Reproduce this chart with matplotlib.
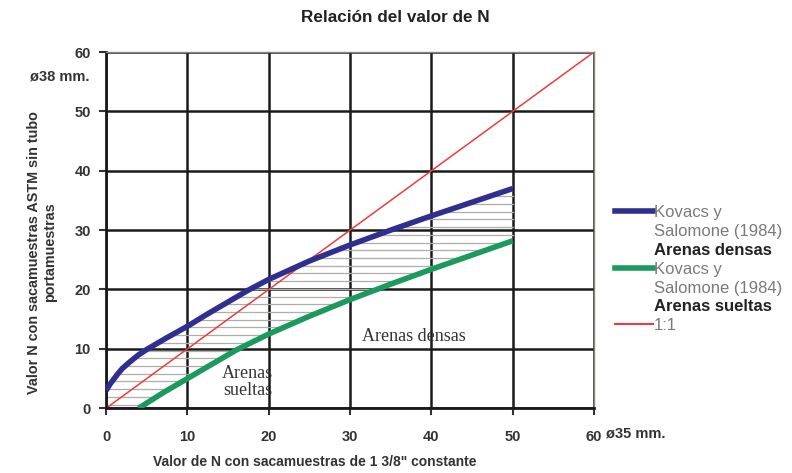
import numpy as np
import matplotlib.pyplot as plt
from matplotlib.lines import Line2D

plt.rcParams['font.family'] = ['Liberation Sans', 'DejaVu Sans']

# Kovacs y Salomone (1984) curves
x_densas = [0, 0.5, 1, 1.5, 2, 3, 4, 5, 6, 7.5, 10, 12.5, 15, 17.5, 20, 25, 30, 35, 40, 45, 50]
y_densas = [3, 4.1, 5.0, 5.9, 6.7, 7.9, 9.0, 9.9, 10.7, 11.9, 13.8, 15.9, 17.9, 19.9, 21.7,
            24.8, 27.5, 30.0, 32.4, 34.7, 37]
x_sueltas = [4, 7, 10, 13, 16, 20, 25, 30, 35, 40, 45, 50]
y_sueltas = [0, 2.6, 5, 7.4, 9.8, 12.5, 15.5, 18.3, 20.9, 23.4, 25.8, 28.2]
x_ref = [0, 60]
y_ref = [0, 60]

fig = plt.figure(figsize=(7.92, 4.73), dpi=100)
ax = fig.add_axes([0.134, 0.137, 0.616, 0.753])

# horizontal hatching between the two curves
for yh in np.arange(0.6, 37, 1.3):
    xl = np.interp(yh, y_densas, x_densas, left=0)
    xr = min(np.interp(yh, y_sueltas, x_sueltas), 50)
    if xr > xl:
        ax.plot([xl, xr], [yh, yh], color='#b0aca8', lw=0.9, zorder=1)

ax.plot(x_densas, y_densas, color='#2e2f8f', lw=4, solid_capstyle='butt', zorder=3)
ax.plot(x_sueltas, y_sueltas, color='#1a9a5c', lw=4, solid_capstyle='butt', zorder=3)
ax.plot(x_ref, y_ref, color='#ee3b3b', lw=1.1, zorder=2)

ax.set_xlim(0, 60)
ax.set_ylim(0, 60)
ax.set_xticks(range(0, 61, 10))
ax.set_yticks(range(0, 61, 10))
ax.grid(True, color='#1a1a1a', lw=1.8)
ax.set_axisbelow(True)
for s in ['left', 'bottom']:
    ax.spines[s].set_linewidth(2)
    ax.spines[s].set_color('#1a1a1a')
for s in ['top', 'right']:
    ax.spines[s].set_linewidth(1)
    ax.spines[s].set_color('#8a8580')
ax.tick_params(length=5, width=1.5, color='#333333', labelsize=10.5, pad=6)
ax.tick_params(axis='x', pad=11)
for lbl in ax.get_xticklabels() + ax.get_yticklabels():
    lbl.set_fontweight('bold')
    lbl.set_color('#333333')

ax.text(37.9, 12, 'Arenas densas', family='Liberation Serif', fontsize=13, color='#333333',
        ha='center', va='center')
ax.text(17.4, 4.4, 'Arenas\nsueltas', family='Liberation Serif', fontsize=13, color='#333333',
        ha='center', va='center', linespacing=0.95)

fig.text(0.499, 0.962, 'Relación del valor de N', ha='center', va='center',
         fontsize=12.3, fontweight='bold', color='#222222')
fig.text(0.398, 0.023, 'Valor de N con sacamuestras de 1 3/8" constante', ha='center',
         va='center', fontsize=10, fontweight='bold', color='#333333')
fig.text(0.053, 0.467, 'Valor N con sacamuestras ASTM sin tubo\nportamuestras', ha='center',
         va='center', rotation=90, fontsize=10.4, fontweight='bold', color='#333333',
         linespacing=1.2)
fig.text(0.076, 0.838, 'ø38 mm.', ha='center', va='center', fontsize=10.5,
         fontweight='bold', color='#333333')
fig.text(0.803, 0.083, 'ø35 mm.', ha='center', va='center', fontsize=10.5,
         fontweight='bold', color='#333333')

# legend: handle sits on the first text row of each entry
blank = Line2D([], [], color='none')
handles = [Line2D([], [], color='#2e2f8f', lw=4), blank, blank,
           Line2D([], [], color='#1a9a5c', lw=4), blank, blank,
           Line2D([], [], color='#ee3b3b', lw=1.5)]
labels = ['Kovacs y', 'Salomone (1984)', 'Arenas densas',
          'Kovacs y', 'Salomone (1984)', 'Arenas sueltas', '1:1']
leg = fig.legend(handles, labels, loc='upper left', bbox_to_anchor=(0.776, 0.566),
                 frameon=False, fontsize=12, handlelength=2.3, handletextpad=0.05,
                 labelspacing=0.23, borderaxespad=0, borderpad=0)
for t in leg.get_texts():
    if t.get_text().startswith('Arenas'):
        t.set_fontweight('bold')
        t.set_color('#222222')
    else:
        t.set_color('#7a7a7a')

fig.savefig('out.png', dpi=100)
